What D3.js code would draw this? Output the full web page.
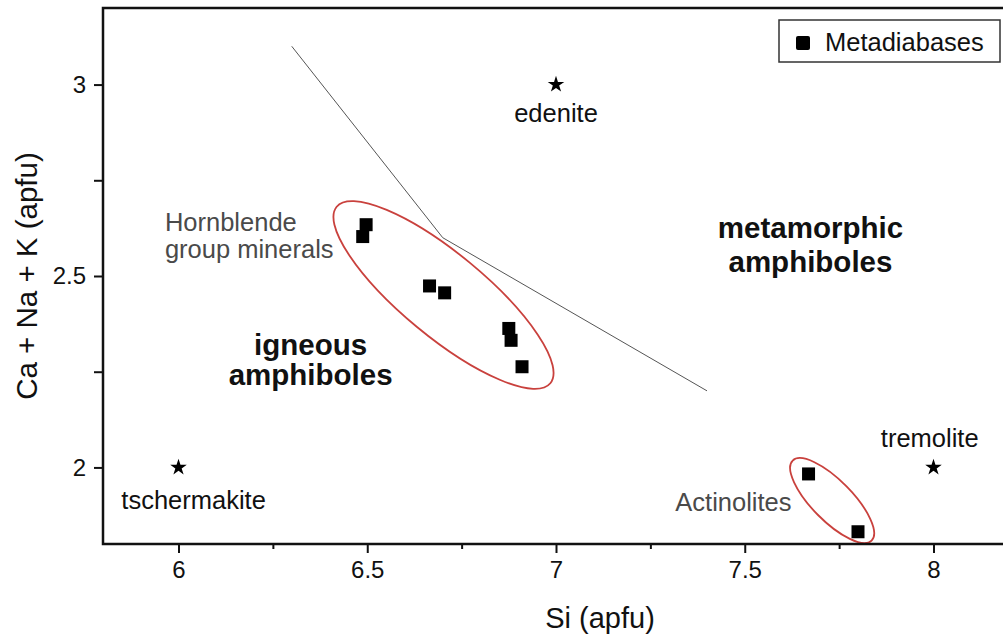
<!DOCTYPE html>
<html>
<head>
<meta charset="utf-8">
<script src="https://cdn.jsdelivr.net/npm/d3@7"></script>
<style>
  html, body { margin: 0; padding: 0; background: #fff; }
  svg { display: block; font-family: "Liberation Sans", Arial, sans-serif; }
</style>
</head>
<body>
<svg id="chart" width="1003" height="641"></svg>
<script>
// ---------- data ----------
const seriesName = "Metadiabases";
const siValues = [6.497, 6.488, 6.665, 6.705, 6.875, 6.881, 6.910, 7.669, 7.800];
const caNaKValues = [2.634, 2.603, 2.474, 2.456, 2.363, 2.332, 2.263, 1.983, 1.832];

const endMemberNames = ["tschermakite", "edenite", "tremolite"];
const endMemberSi = [6, 7, 8];
const endMemberCaNaK = [2, 3, 2];

// boundary line between igneous and metamorphic amphiboles
const boundarySi = [6.3, 6.7, 7.4];
const boundaryCaNaK = [3.1, 2.6, 2.2];

// grouping ellipses: major axis end points (data) and minor/major ratio
const ellipseStartSi = [6.419, 7.627];
const ellipseStartCaNaK = [2.681, 2.018];
const ellipseEndSi = [6.985, 7.836];
const ellipseEndCaNaK = [2.220, 1.809];
const ellipseRatio = [0.30, 0.36];

const xTicks = [6, 6.5, 7, 7.5, 8];
const xMinorTicks = [6.25, 6.75, 7.25, 7.75];
const yTicks = [2, 2.5, 3];
const yMinorTicks = [2.25, 2.75];
const xDomain = [5.8, 8.2];
const yDomain = [1.8, 3.2];

// text annotations (data coordinates)
const endMemberLabelSi = [6.04, 7.0, 7.99];
const endMemberLabelCaNaK = [1.891, 2.902, 2.054];

const groupLabels = [["Hornblende", "group minerals"], ["Actinolites"]];
const groupLabelSi = [5.964, 7.47];
const groupLabelCaNaK = [[2.617, 2.546], [1.887]];

const fieldLabels = [["igneous", "amphiboles"], ["metamorphic", "amphiboles"]];
const fieldLabelSi = [6.35, 7.674];
const fieldLabelCaNaK = [[2.293, 2.215], [2.598, 2.511]];

const xTitle = "Si (apfu)";
const yTitle = "Ca + Na + K (apfu)";

// ---------- layout ----------
(function () {
const svg = d3.select("#chart");
const mLeft = 103, mRight = 1009, mTop = 8, mBottom = 544;
const x = d3.scaleLinear().domain(xDomain).range([mLeft, mRight]);
const y = d3.scaleLinear().domain(yDomain).range([mBottom, mTop]);
const ink = "#111";

// boundary line
const boundary = boundarySi.map((s, i) => [s, boundaryCaNaK[i]]);
svg.append("path")
  .datum(boundary)
  .attr("d", d3.line().x(d => x(d[0])).y(d => y(d[1])))
  .attr("fill", "none").attr("stroke", "#555").attr("stroke-width", 1);

// ellipses
ellipseStartSi.forEach((s, i) => {
  const x1 = x(s), y1 = y(ellipseStartCaNaK[i]);
  const x2 = x(ellipseEndSi[i]), y2 = y(ellipseEndCaNaK[i]);
  const cx = (x1 + x2) / 2, cy = (y1 + y2) / 2;
  const rx = Math.hypot(x2 - x1, y2 - y1) / 2;
  const ang = Math.atan2(y2 - y1, x2 - x1) * 180 / Math.PI;
  svg.append("ellipse")
    .attr("cx", 0).attr("cy", 0)
    .attr("rx", rx).attr("ry", rx * ellipseRatio[i])
    .attr("transform", `translate(${cx},${cy}) rotate(${ang})`)
    .attr("fill", "none").attr("stroke", "#c9413d").attr("stroke-width", 1.8);
});

// data squares
const sq = 13;
svg.append("g").selectAll("rect")
  .data(siValues.map((s, i) => [s, caNaKValues[i]]))
  .join("rect")
  .attr("x", d => x(d[0]) - sq / 2).attr("y", d => y(d[1]) - sq / 2)
  .attr("width", sq).attr("height", sq)
  .attr("fill", "#000");

// end-member stars
svg.append("g").selectAll("path")
  .data(endMemberSi.map((s, i) => [s, endMemberCaNaK[i]]))
  .join("path")
  .attr("d", d3.symbol().type(d3.symbolStar).size(85))
  .attr("transform", d => `translate(${x(d[0])},${y(d[1])})`)
  .attr("fill", "#000");

// end-member labels
svg.append("g").selectAll("text")
  .data(endMemberNames)
  .join("text")
  .attr("x", (d, i) => x(endMemberLabelSi[i]))
  .attr("y", (d, i) => y(endMemberLabelCaNaK[i]))
  .attr("text-anchor", "middle")
  .attr("font-size", 25.5).attr("fill", ink)
  .text(d => d);

// group labels (gray)
groupLabels.forEach((lines, i) => {
  lines.forEach((t, j) => {
    svg.append("text")
      .attr("x", x(groupLabelSi[i]))
      .attr("y", y(groupLabelCaNaK[i][j]))
      .attr("text-anchor", i === 0 ? "start" : "middle")
      .attr("font-size", 25.5).attr("fill", "#4a4a4a")
      .text(t);
  });
});

// field labels (bold)
fieldLabels.forEach((lines, i) => {
  lines.forEach((t, j) => {
    svg.append("text")
      .attr("x", x(fieldLabelSi[i]))
      .attr("y", y(fieldLabelCaNaK[i][j]))
      .attr("text-anchor", "middle")
      .attr("font-size", 29.5).attr("font-weight", "bold").attr("fill", ink)
      .text(t);
  });
});

// axes
const xAxis = svg.append("g").attr("transform", `translate(0,${mBottom})`)
  .call(d3.axisBottom(x).tickValues(xTicks).tickFormat(d3.format("")).tickSize(9).tickPadding(8));
const xMinor = svg.append("g").attr("transform", `translate(0,${mBottom})`)
  .call(d3.axisBottom(x).tickValues(xMinorTicks).tickFormat("").tickSize(5));
const yAxis = svg.append("g").attr("transform", `translate(${mLeft},0)`)
  .call(d3.axisLeft(y).tickValues(yTicks).tickFormat(d3.format("")).tickSize(9).tickPadding(8));
const yMinor = svg.append("g").attr("transform", `translate(${mLeft},0)`)
  .call(d3.axisLeft(y).tickValues(yMinorTicks).tickFormat("").tickSize(9));

[xAxis, xMinor, yAxis, yMinor].forEach(g => {
  g.select(".domain").remove();
  g.selectAll(".tick line").attr("stroke", ink).attr("stroke-width", 2);
  g.selectAll(".tick text").attr("font-size", 24).attr("fill", ink)
    .attr("font-family", "Liberation Sans, Arial, sans-serif");
});

// frame (left, bottom, top)
svg.append("path")
  .attr("d", `M${mRight},${mTop}H${mLeft}V${mBottom}H${mRight}`)
  .attr("fill", "none").attr("stroke", ink).attr("stroke-width", 2.5);

// axis titles
svg.append("text")
  .attr("x", 600).attr("y", 628)
  .attr("text-anchor", "middle").attr("font-size", 29).attr("fill", ink)
  .text(xTitle);
svg.append("text")
  .attr("transform", `translate(37,${(mTop + mBottom) / 2}) rotate(-90)`)
  .attr("text-anchor", "middle").attr("font-size", 29.5).attr("fill", ink)
  .text(yTitle);

// legend
const lg = svg.append("g");
lg.append("rect").attr("x", 779).attr("y", 20).attr("width", 221).attr("height", 42)
  .attr("fill", "#fff").attr("stroke", "#333").attr("stroke-width", 1.5);
lg.append("rect").attr("x", 796).attr("y", 36).attr("width", 14).attr("height", 14)
  .attr("rx", 2).attr("fill", "#000");
lg.append("text").attr("x", 825).attr("y", 51).attr("font-size", 25.5).attr("fill", ink)
  .text(seriesName);
})();
</script>
</body>
</html>
